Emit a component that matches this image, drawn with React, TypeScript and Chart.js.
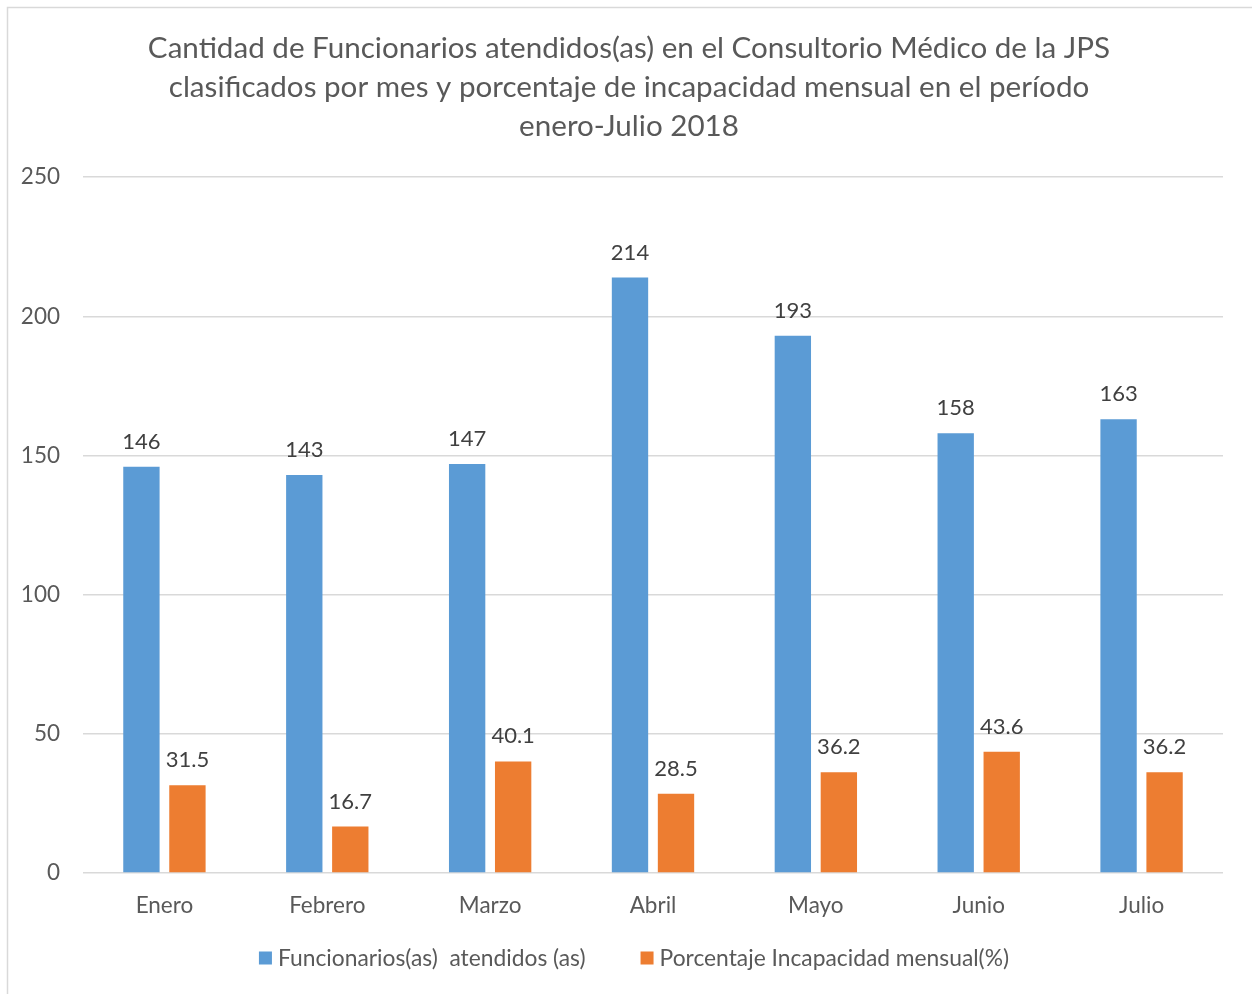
import React, { useEffect, useRef } from "react";
import { Chart, registerables } from "chart.js";

Chart.register(...registerables);

const months = ["Enero", "Febrero", "Marzo", "Abril", "Mayo", "Junio", "Julio"];
const funcionarios = [146, 143, 147, 214, 193, 158, 163];
const porcentaje = [31.5, 16.7, 40.1, 28.5, 36.2, 43.6, 36.2];
const titleLines = [
  "Cantidad de Funcionarios atendidos(as) en el Consultorio Médico de la JPS",
  "clasificados por mes y porcentaje de incapacidad mensual en el período",
  "enero-Julio 2018",
];
const seriesNames = ["Funcionarios(as)  atendidos (as)", "Porcentaje Incapacidad mensual(%)"];
const seriesColors = ["#5B9BD5", "#ED7D31"];

const FONT = "Lato, 'Open Sans', sans-serif";

const borderPlugin = {
  id: "frameBorder",
  beforeDraw(chart: any) {
    const ctx = chart.ctx;
    ctx.save();
    ctx.fillStyle = "#ffffff";
    ctx.fillRect(0, 0, chart.width, chart.height);
    ctx.strokeStyle = "#d9d9d9";
    ctx.lineWidth = 1.5;
    ctx.strokeRect(7.5, 7.5, chart.width + 20, chart.height + 20);
    ctx.restore();
  },
};

const labelPlugin = {
  id: "valueLabels",
  afterDatasetsDraw(chart: any) {
    const ctx = chart.ctx;
    ctx.save();
    ctx.font = `22px ${FONT}`;
    ctx.fillStyle = "#404040";
    ctx.textAlign = "center";
    ctx.textBaseline = "middle";
    chart.data.datasets.forEach((ds: any, i: number) => {
      const meta = chart.getDatasetMeta(i);
      meta.data.forEach((el: any, j: number) => {
        ctx.fillText(String(ds.data[j]), el.x, el.y - 25);
      });
    });
    ctx.restore();
  },
};

// Legend drawn below the x axis, centered, items separated by a wide gap
const legendPlugin = {
  id: "bottomLegend",
  afterDraw(chart: any) {
    const ctx = chart.ctx;
    ctx.save();
    ctx.font = `22.8px ${FONT}`;
    ctx.textBaseline = "middle";
    ctx.textAlign = "left";
    const box = 13;
    const gapText = 6;
    const gapItem = 55;
    const items = chart.data.datasets.map((ds: any) => ({
      text: ds.label,
      color: ds.backgroundColor,
      w: box + gapText + ctx.measureText(ds.label).width,
    }));
    const total = items.reduce((s: number, it: any) => s + it.w, 0) + gapItem * (items.length - 1);
    const cy = chart.chartArea.bottom + 85;
    let x = 634 - total / 2;
    items.forEach((it: any) => {
      ctx.fillStyle = it.color;
      ctx.fillRect(x, cy - box / 2, box, box);
      ctx.fillStyle = "#595959";
      ctx.fillText(it.text, x + box + gapText, cy + 1);
      x += it.w + gapItem;
    });
    ctx.restore();
  },
};

export default function App() {
  const ref = useRef<HTMLCanvasElement>(null);
  useEffect(() => {
    if (!ref.current) return;
    const chart = new Chart(ref.current, {
      type: "bar",
      data: {
        labels: months,
        datasets: [
          {
            label: seriesNames[0],
            data: funcionarios,
            backgroundColor: seriesColors[0],
            categoryPercentage: 0.565,
            barPercentage: 0.79,
          },
          {
            label: seriesNames[1],
            data: porcentaje,
            backgroundColor: seriesColors[1],
            categoryPercentage: 0.565,
            barPercentage: 0.79,
          },
        ],
      },
      options: {
        responsive: false,
        animation: false,
        layout: { padding: { left: 6, right: 0, top: 0, bottom: 71 } },
        plugins: {
          title: {
            display: true,
            text: titleLines,
            color: "#595959",
            font: { family: FONT, size: 29.6, weight: "normal", lineHeight: 1.32 },
            padding: { top: 29, bottom: 31 },
          },
          legend: { display: false },
          tooltip: { enabled: false },
        },
        scales: {
          x: {
            afterFit(scale: any) {
              scale.height = 50;
            },
            grid: { display: false },
            border: { display: false },
            ticks: { color: "#595959", font: { family: FONT, size: 22.5 }, padding: 11 },
          },
          y: {
            min: 0,
            max: 250,
            afterFit(scale: any) {
              scale.width = 77;
            },
            grid: { color: "#d9d9d9", lineWidth: 1.5, drawTicks: false },
            border: { display: false },
            ticks: {
              stepSize: 50,
              color: "#595959",
              font: { family: FONT, size: 22.5 },
              padding: 23,
            },
          },
          yRight: {
            position: "right",
            min: 0,
            max: 250,
            afterFit(scale: any) {
              scale.width = 29;
            },
            grid: { display: false },
            border: { display: false },
            ticks: { display: false },
          },
        },
      },
      plugins: [borderPlugin, labelPlugin, legendPlugin],
    });
    return () => chart.destroy();
  }, []);
  return (
    <div style={{ position: "fixed", left: 0, top: 0, width: 1252, height: 994 }}>
      <canvas ref={ref} width={1252} height={994} />
    </div>
  );
}
